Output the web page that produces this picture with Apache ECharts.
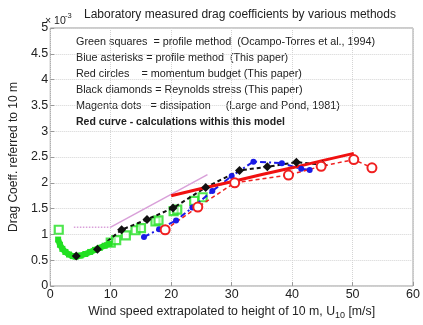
<!DOCTYPE html>
<html>
<head>
<meta charset="utf-8">
<script src="https://cdn.jsdelivr.net/npm/echarts@6/dist/echarts.min.js"></script>
<style>
  html, body { margin: 0; padding: 0; background: #fff; }
  #chart { width: 423px; height: 325px; }
</style>
</head>
<body>
<div id="chart"></div>
<script>
// values, [U10 m/s, Cd x 1e-3]
var greenDense = [[1.3, 0.9], [1.6, 0.8], [2.0, 0.72], [2.5, 0.66], [3.1, 0.61], [3.7, 0.58], [4.2, 0.57], [5.0, 0.59], [5.8, 0.62], [6.6, 0.66], [7.4, 0.7], [8.2, 0.74], [9.0, 0.78], [9.8, 0.82]];
var greenSquares = [[1.4, 1.09], [10.0, 0.84], [10.9, 0.89], [12.5, 0.98], [14.1, 1.08], [15.0, 1.12], [17.4, 1.25], [17.9, 1.27], [20.4, 1.45], [21.0, 1.48], [23.8, 1.65], [25.2, 1.72]];
var blackDiamonds = [[4.3, 0.58], [7.8, 0.71], [11.8, 1.09], [16.0, 1.29], [20.3, 1.51], [25.7, 1.91], [31.3, 2.24], [35.9, 2.31], [40.7, 2.4], [45.0, 2.35]];
var blueAsterisks = [[15.5, 0.95], [18.0, 1.1], [20.8, 1.27], [23.5, 1.52], [26.8, 1.84], [30.0, 2.13], [33.6, 2.41], [38.3, 2.38], [41.5, 2.27], [42.9, 2.25]];
var redCircles = [[19.0, 1.09], [24.4, 1.53], [30.5, 2.0], [39.4, 2.15], [44.8, 2.32], [50.2, 2.45], [53.2, 2.29]];
var redCurve = [[20.0, 1.75], [25.0, 1.89], [30.0, 2.02], [35.0, 2.16], [40.0, 2.29], [45.0, 2.43], [50.2, 2.57]];
var magentaFlat = [[3.9, 1.14], [10.0, 1.14]];
var magentaRise = [[10.0, 1.14], [26.0, 2.16]];

var xTicks = [0, 10, 20, 30, 40, 50, 60];
var yTicks = [0, 0.5, 1, 1.5, 2, 2.5, 3, 3.5, 4, 4.5, 5];

var notes = [
  "Green squares  = profile method  (Ocampo-Torres et al., 1994)",
  "Blue asterisks = profile method  (This paper)",
  "Red circles    = momentum budget (This paper)",
  "Black diamonds = Reynolds stress (This paper)",
  "Magenta dots   = dissipation     (Large and Pond, 1981)",
  "Red curve - calculations withis this model"
];

var FONT = "Liberation Sans, Arial, sans-serif";
var myChart = echarts.init(document.getElementById("chart"));

var noteGraphics = notes.map(function (t, i) {
  return {
    type: "text",
    left: 76,
    top: 37 + i * 16,
    style: {
      text: t,
      font: (i == 5 ? "bold 10.5px " : "10.8px ") + FONT,
      fill: "#222"
    }
  };
});

var option = {
  animation: false,
  backgroundColor: "#fff",
  grid: {
    left: 44, right: 7, top: 28, bottom: 32,
    show: true, borderColor: "#999", borderWidth: 1
  },
  xAxis: {
    type: "value",
    min: xTicks[0], max: xTicks[xTicks.length - 1], interval: 10,
    axisLine: { show: false },
    axisTick: { inside: true, length: 4, lineStyle: { color: "#999" } },
    axisLabel: { color: "#222", fontSize: 12.5, fontFamily: FONT, margin: 2 },
    splitLine: { lineStyle: { color: "#d4d4d4", type: "dotted" } },
    name: "Wind speed extrapolated to height of 10 m, U{s|10} [m/s]",
    nameLocation: "middle",
    nameGap: 18,
    nameTextStyle: {
      color: "#222", fontSize: 12.3, fontFamily: FONT,
      rich: { s: { fontSize: 9, fontFamily: FONT, color: "#222", verticalAlign: "bottom", padding: [7, 0, 0, 0] } }
    }
  },
  yAxis: {
    type: "value",
    min: yTicks[0], max: yTicks[yTicks.length - 1], interval: 0.5,
    axisLine: { show: false },
    axisTick: { inside: true, length: 4, lineStyle: { color: "#999" } },
    axisLabel: { color: "#222", fontSize: 12.5, fontFamily: FONT, margin: 2 },
    splitLine: { lineStyle: { color: "#d4d4d4", type: "dotted" } },
    name: "Drag Coeff. referred to 10 m",
    nameLocation: "middle",
    nameGap: 30,
    nameTextStyle: { color: "#222", fontSize: 12, fontFamily: FONT }
  },
  graphic: [
    {
      type: "text", left: 84, top: 9,
      style: { text: "Laboratory measured drag coefficients by various methods", font: "500 12px " + FONT, fill: "#222" }
    },
    {
      type: "text", left: 45, top: 16,
      style: { text: "× 10", font: "10.5px " + FONT, fill: "#222" }
    },
    {
      type: "text", left: 65, top: 12,
      style: { text: "-3", font: "7.5px " + FONT, fill: "#222" }
    }
  ].concat(noteGraphics),
  series: [
    {
      name: "Magenta flat", type: "line", data: magentaFlat, symbol: "none",
      lineStyle: { color: "#d9a0d9", width: 1.5, type: "dotted" }
    },
    {
      name: "Magenta rise", type: "line", data: magentaRise, symbol: "none",
      lineStyle: { color: "#d9a0d9", width: 1.5 }
    },
    {
      name: "Green dense", type: "line", data: greenDense, symbol: "rect", symbolSize: 6,
      itemStyle: { color: "#22e022" },
      lineStyle: { color: "#22e022", width: 6 }
    },
    {
      name: "Green squares", type: "scatter", data: greenSquares, symbol: "rect", symbolSize: 8,
      itemStyle: { color: "rgba(255,255,255,0.6)", borderColor: "#22e022", borderWidth: 2.2 }
    },
    {
      name: "Blue asterisks", type: "line", data: blueAsterisks, symbol: "circle", symbolSize: 6,
      itemStyle: { color: "#1a1ae6" },
      lineStyle: { color: "#1a1ae6", width: 2, type: [6, 3, 2, 3] }
    },
    {
      name: "Black diamonds", type: "line", data: blackDiamonds, symbol: "diamond", symbolSize: 9,
      itemStyle: { color: "#111" },
      lineStyle: { color: "#111", width: 2, type: [4, 3] }
    },
    {
      name: "Red circles", type: "line", data: redCircles, symbol: "emptyCircle", symbolSize: 9,
      itemStyle: { color: "#f02020", borderWidth: 1.8 },
      lineStyle: { color: "#f02020", width: 1.5, type: [4, 3] }
    },
    {
      name: "Red curve", type: "line", data: redCurve, symbol: "none",
      lineStyle: { color: "#f01010", width: 3 }
    }
  ]
};
myChart.setOption(option);
</script>
</body>
</html>
